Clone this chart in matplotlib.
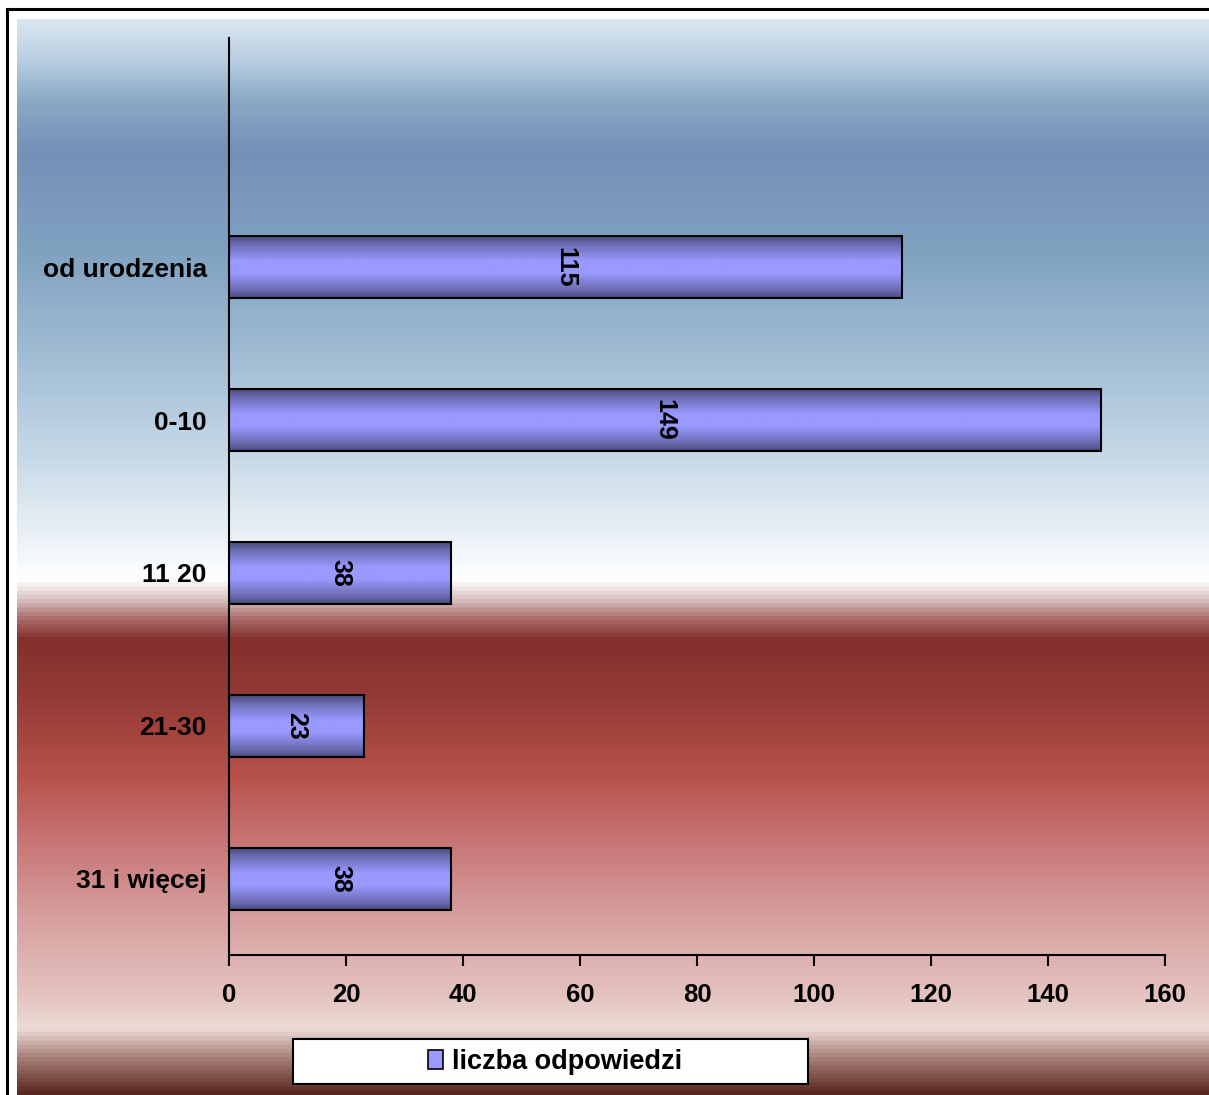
import matplotlib.pyplot as plt
import numpy as np
from matplotlib.colors import LinearSegmentedColormap
from matplotlib.patches import Rectangle, Patch

plt.rcParams['font.family'] = ['Liberation Sans', 'DejaVu Sans']
plt.rcParams['font.weight'] = 'bold'

# data
categories = ["31 i więcej", "21-30", "11 20", "0-10", "od urodzenia"]
values = [38, 23, 38, 149, 115]
series_name = "liczba odpowiedzi"
x_ticks = [0, 20, 40, 60, 80, 100, 120, 140, 160]

W, H = 1209, 1095
fig = plt.figure(figsize=(W / 100, H / 100), dpi=100)
fig.patch.set_facecolor("white")

# frame around the chart area (only top and left edges fall inside the image)
fig.add_artist(plt.Line2D([7 / W, 7 / W], [0, 1 - 9 / H], transform=fig.transFigure,
                          color="black", linewidth=2.2))
fig.add_artist(plt.Line2D([7 / W, 1], [1 - 9 / H, 1 - 9 / H], transform=fig.transFigure,
                          color="black", linewidth=2.2))

# background gradient
bg_stops = [
    (0.000, "#d8e6f0"), (0.038, "#b8cde0"), (0.075, "#88a9c4"), (0.122, "#7690b8"),
    (0.215, "#80a2c0"), (0.289, "#98b6ce"), (0.400, "#c4d7e6"), (0.475, "#e8f0f6"),
    (0.521, "#ffffff"), (0.540, "#d8c0c0"), (0.558, "#a86a68"), (0.577, "#82302c"),
    (0.640, "#983c38"), (0.706, "#b8524c"), (0.770, "#c87878"), (0.837, "#d8a0a0"),
    (0.911, "#e4c4c0"), (0.940, "#ecdcd6"), (0.967, "#a88078"), (1.000, "#5a2820"),
]
bg_cmap = LinearSegmentedColormap.from_list("bg", bg_stops)
bg_ax = fig.add_axes([17 / W, 0, 1 - 17 / W, 1 - 19 / H])
bg_ax.imshow(np.linspace(0, 1, 512).reshape(-1, 1), cmap=bg_cmap, aspect="auto",
             extent=[0, 1, 0, 1], origin="upper")
bg_ax.set_axis_off()

# main axes
ax = fig.add_axes([229 / W, 1 - 955 / H, (1165 - 229) / W, (955 - 38) / H])
ax.patch.set_alpha(0)

y = np.arange(len(categories))
bars = ax.barh(y, values, height=0.405, color="#9999ff", edgecolor="black", linewidth=1.5, zorder=3)

bar_cmap = LinearSegmentedColormap.from_list(
    "bar", [(0, "#4a4a7c"), (0.12, "#6a6ab0"), (0.4, "#9999ff"), (0.6, "#9999ff"),
            (0.88, "#6a6ab0"), (1, "#4a4a7c")])
grad = np.linspace(0, 1, 128).reshape(-1, 1)
for b in bars:
    x0, y0 = b.get_x(), b.get_y()
    im = ax.imshow(grad, cmap=bar_cmap, aspect="auto", zorder=2,
                   extent=[x0, x0 + b.get_width(), y0, y0 + b.get_height()], origin="upper")
    im.set_clip_path(b)
    b.set_facecolor("none")

for yi, v in zip(y, values):
    ax.text(v / 2, yi, str(v), rotation=270, ha="center", va="center",
            fontsize=18, fontweight="bold", zorder=4)

ax.set_xlim(0, 160)
ax.set_ylim(-0.5, 5.5)
ax.set_xticks(x_ticks)
ax.set_xticklabels([str(t) for t in x_ticks], fontsize=18.5, fontweight="bold")
ax.set_yticks(y)
ax.set_yticklabels(categories, fontsize=19, fontweight="bold")
ax.tick_params(axis="x", length=8, width=1.5, direction="out", pad=12)
ax.tick_params(axis="y", length=0, pad=16)
for s in ["top", "right"]:
    ax.spines[s].set_visible(False)
ax.spines["left"].set_linewidth(1.5)
ax.spines["bottom"].set_linewidth(1.5)

# legend box
fig.add_artist(Rectangle((293 / W, 1 - 1084 / H), (808 - 293) / W, 45 / H,
                         transform=fig.transFigure, facecolor="white", edgecolor="black",
                         linewidth=1.5))
fig.legend(handles=[Patch(facecolor="#9999ff", edgecolor="black", linewidth=1.2, label=series_name)],
           loc="center", bbox_to_anchor=(555 / W, 1 - 1062 / H), frameon=False,
           prop={"size": 19.5, "weight": "bold"}, handlelength=0.55, handleheight=0.75,
           handletextpad=0.35)

fig.savefig("out.png", dpi=100)
